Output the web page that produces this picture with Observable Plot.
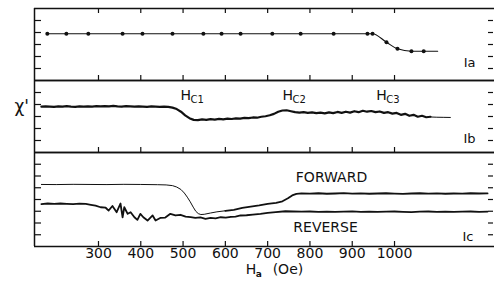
<!DOCTYPE html>
<html><head><meta charset="utf-8">
<script src="https://cdn.jsdelivr.net/npm/d3@7"></script>
<script src="https://cdn.jsdelivr.net/npm/@observablehq/plot@0.6"></script>
<style>
body{margin:0;background:#fff;}
#chart{position:relative;width:494px;height:283px;overflow:hidden;font-family:"DejaVu Sans",sans-serif;background:#fff;}
#chart svg{position:absolute;left:0;background:transparent !important;overflow:visible;}
</style></head><body><div id="chart"></div>
<script>
// ---- data ----
const xTicks = [300, 400, 500, 600, 700, 800, 900, 1000];
const yTicksAB = [1, 2, 3, 4, 5];
const yTicksC = [1, 2, 3, 4, 5, 6, 7];
const xDomain = [148.7, 1236.4];

// Panel Ia: measured points
const aH = [179, 224, 276, 357, 404, 475, 548, 591, 636, 711, 778, 856, 936, 948, 981, 1007, 1040, 1069];
const aV = [3.9, 3.9, 3.9, 3.9, 3.9, 3.9, 3.9, 3.9, 3.9, 3.9, 3.9, 3.9, 3.9, 3.9, 3.19, 2.64, 2.44, 2.44];
const aCurveH = [...aH, 1102];
const aCurveV = [...aV, 2.44];

// Panel Ib: chi' trace
const bH = [165,175,185,195,205,215,225,235,245,255,265,275,285,295,305,315,325,335,345,355,365,375,385,395,405,415,425,435,445,455,465,475,485,495,505,515,525,535,545,555,565,575,585,595,605,615,625,635,645,655,665,675,685,695,705,715,725,735,745,755,765,775,785,795,805,815,825,835,845,855,865,875,885,895,905,915,925,935,945,955,965,975,985,995,1005,1015,1025,1035,1045,1055,1065,1075,1085];
const bV = [3.82,3.85,3.83,3.80,3.84,3.82,3.86,3.83,3.81,3.84,3.82,3.85,3.83,3.86,3.84,3.87,3.85,3.88,3.85,3.83,3.86,3.84,3.82,3.85,3.83,3.81,3.84,3.82,3.80,3.83,3.80,3.74,3.62,3.40,3.10,2.86,2.72,2.70,2.76,2.72,2.78,2.74,2.80,2.76,2.82,2.79,2.85,2.82,2.88,2.86,2.92,2.90,2.98,3.02,3.10,3.22,3.40,3.50,3.52,3.44,3.36,3.32,3.36,3.30,3.34,3.28,3.32,3.26,3.34,3.28,3.38,3.30,3.40,3.32,3.44,3.36,3.48,3.40,3.46,3.36,3.42,3.30,3.36,3.24,3.30,3.14,3.22,3.06,3.14,2.98,3.06,2.94,2.98];
const bTailH = [1085, 1100, 1115, 1132];
const bTailV = [2.96, 2.94, 2.93, 2.92];
const hcSub = ["C1", "C2", "C3"];
const hcH = [494, 735, 957];

// Panel Ic: forward / reverse sweeps
const fH = [165,200,240,280,320,360,400,440,460,475,485,495,503,510,517,524,530,536,542,550,565,580,600,620,640,660,680,700,720,735,748,758,768,780,800,820,840,860,880,900,920,940,960,980,1000,1020,1040,1060,1080,1100,1120,1140,1160,1180,1200,1220];
const fV = [5.28,5.27,5.29,5.28,5.27,5.29,5.28,5.26,5.24,5.18,5.06,4.85,4.55,4.20,3.80,3.35,3.00,2.80,2.72,2.74,2.85,2.95,3.04,3.12,3.28,3.40,3.50,3.62,3.72,3.85,4.10,4.35,4.48,4.52,4.50,4.53,4.49,4.51,4.54,4.50,4.52,4.49,4.51,4.53,4.50,4.48,4.51,4.53,4.50,4.52,4.49,4.51,4.50,4.53,4.51,4.52];
const rH = [165,180,195,210,225,240,255,270,282,293,305,317,324,333,343,352,357,361,369,376,385,392,399,406,416,428,435,447,458,470,482,494,506,518,529,541,553,565,577,589,601,613,624,636,650,665,683,700,719,742,760,780,800,820,840,860,880,900,920,940,960,980,1000,1020,1040,1060,1080,1100,1120,1140,1160,1180,1200,1220];
const rV = [3.60,3.66,3.62,3.66,3.63,3.61,3.65,3.62,3.55,3.48,3.34,3.30,3.06,3.45,2.92,3.66,2.49,3.34,2.78,2.92,2.49,2.27,2.78,2.49,2.21,2.64,2.21,2.44,2.46,2.78,2.64,2.70,2.55,2.50,2.44,2.48,2.36,2.44,2.40,2.49,2.46,2.52,2.55,2.64,2.66,2.72,2.78,2.86,2.92,3.00,2.98,2.96,2.98,2.95,2.97,2.94,2.96,2.99,2.95,2.97,2.94,2.96,2.98,2.95,2.93,2.96,2.98,2.95,2.97,2.94,2.96,2.98,2.95,2.97];
const sweepLabels = ["FORWARD", "REVERSE"];
const panelLabels = ["Ia", "Ib", "Ic"];

// ---- helpers ----
const ink = "#111";
const pts = (H, V) => H.map((h, i) => ({h, v: V[i]}));
const W = 494, ML = 34;
const FW = W - ML;

function framing(ymax, fh, topTicks) {
  const m = [
    Plot.ruleX([xDomain[0]], {stroke: ink, strokeWidth: 1.5}),
    Plot.ruleY([ymax], {stroke: ink, strokeWidth: 1.5}),
    Plot.ruleY([0], {stroke: ink, strokeWidth: 1.5}),
    Plot.tickX(xTicks, {x: d => d, stroke: ink, strokeWidth: 1.2, insetTop: fh - 5}),
    Plot.tickY(ymax === 6 ? yTicksAB : yTicksC, {y: d => d, stroke: ink, strokeWidth: 1.2, insetRight: FW - 7}),
    Plot.tickY(ymax === 6 ? yTicksAB : yTicksC, {y: d => d, stroke: ink, strokeWidth: 1.2, insetLeft: FW - 6, insetRight: 1})
  ];
  if (topTicks) m.push(Plot.tickX(xTicks, {x: d => d, stroke: ink, strokeWidth: 1.2, insetBottom: fh - 5}));
  return m;
}

function make(top, height, mt, mb, ymax, marks) {
  const svg = Plot.plot({
    width: W, height, marginLeft: ML, marginRight: 0, marginTop: mt, marginBottom: mb,
    x: {domain: xDomain, axis: null},
    y: {domain: [0, ymax], axis: null},
    style: {background: "transparent", fontFamily: "DejaVu Sans, sans-serif", color: ink},
    marks
  });
  svg.style.top = top + "px";
  document.getElementById("chart").appendChild(svg);
}

// Panel Ia
make(0, 82, 8, 2, 6, [
  ...framing(6, 72, true),
  Plot.line(pts(aCurveH, aCurveV), {x: "h", y: "v", curve: "monotone-x", stroke: ink, strokeWidth: 1.1}),
  Plot.dot(pts(aH, aV), {x: "h", y: "v", r: 2, fill: ink, stroke: "none"}),
  Plot.text([panelLabels[0]], {frameAnchor: "right", y: () => 1.5, dx: -19, fontSize: 13, fill: ink})
]);

// Panel Ib
make(78, 76, 2, 2, 6, [
  ...framing(6, 72, false),
  Plot.line(pts(bH, bV), {x: "h", y: "v", stroke: ink, strokeWidth: 2.2}),
  Plot.line(pts(bTailH, bTailV), {x: "h", y: "v", stroke: ink, strokeWidth: 1}),
  Plot.text(hcH, {x: d => d, y: () => 4.75, text: () => "H", textAnchor: "start", fontSize: 14, fill: ink}),
  Plot.text(hcH, {x: d => d, y: () => 4.75, text: (d, i) => hcSub[i], textAnchor: "start", dx: 10, dy: 4, fontSize: 10, fill: ink}),
  Plot.text(["χ'"], {frameAnchor: "left", y: () => 3.83, dx: -20, fontSize: 17, fill: ink}),
  Plot.text([panelLabels[1]], {frameAnchor: "right", y: () => 1.17, dx: -19, fontSize: 13, fill: ink})
]);

// Panel Ic
make(150, 133, 2, 37, 8, [
  ...framing(8, 94, false),
  Plot.line(pts(fH, fV).filter(d => d.h <= 600), {x: "h", y: "v", stroke: ink, strokeWidth: 1}),
  Plot.line(pts(fH, fV).filter(d => d.h >= 600), {x: "h", y: "v", stroke: ink, strokeWidth: 1.8}),
  Plot.line(pts(rH, rV), {x: "h", y: "v", stroke: ink, strokeWidth: 1.8}),
  Plot.text([sweepLabels[0]], {x: () => 851, y: () => 5.87, fontSize: 14, fill: ink}),
  Plot.text([sweepLabels[1]], {x: () => 837, y: () => 1.62, fontSize: 14, fill: ink}),
  Plot.text([panelLabels[2]], {frameAnchor: "right", y: () => 0.85, dx: -21, fontSize: 13, fill: ink}),
  Plot.text(xTicks, {x: d => d, frameAnchor: "bottom", dy: 11, text: d => String(d), fontSize: 14, fill: ink}),
  Plot.text(["H"], {x: () => 648, frameAnchor: "bottom", dy: 27, textAnchor: "start", fontSize: 14, fill: ink}),
  Plot.text(["a"], {x: () => 648, frameAnchor: "bottom", dy: 30, dx: 10, textAnchor: "start", fontSize: 9, fontWeight: "bold", fill: ink}),
  Plot.text(["(Oe)"], {x: () => 648, frameAnchor: "bottom", dy: 27, dx: 27, textAnchor: "start", fontSize: 14, fill: ink})
]);
</script>
</body></html>
